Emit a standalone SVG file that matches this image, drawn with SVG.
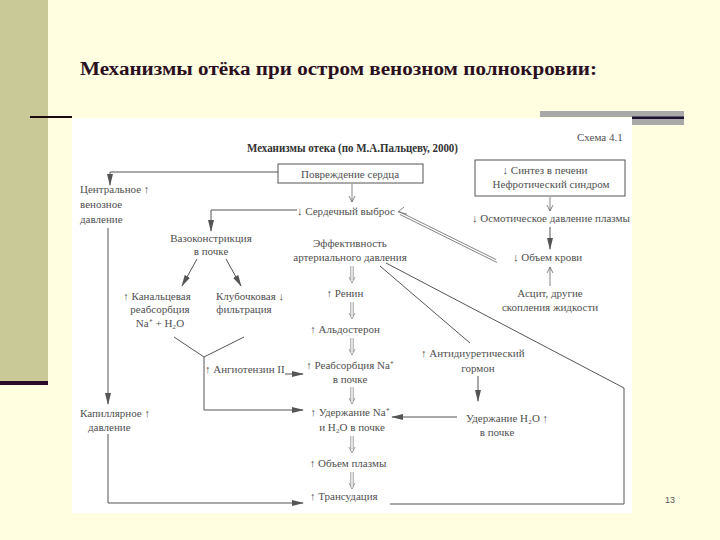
<svg xmlns="http://www.w3.org/2000/svg" width="720" height="540" viewBox="0 0 720 540">
<defs>
<style>
.t{font-family:"Liberation Serif","Times New Roman",serif;font-size:11px;fill:#505050}
.c{text-anchor:middle}
.ln{fill:none;stroke:#555;stroke-width:1}
.th{fill:none;stroke:#666;stroke-width:0.8}
</style>
<marker id="ah" markerWidth="12" markerHeight="8" refX="11" refY="4" orient="auto" markerUnits="userSpaceOnUse"><path d="M0,1 L12,4 L0,7 z" fill="#555"/></marker>
<marker id="oh" markerWidth="8" markerHeight="8" refX="6" refY="4" orient="auto" markerUnits="userSpaceOnUse"><path d="M0,1 L6,4 L0,7" fill="none" stroke="#666" stroke-width="0.8"/></marker>
<g id="dbl"><path d="M-1.2,0 V14 M1.2,0 V14" fill="none" stroke="#777" stroke-width="0.7"/><path d="M-3,11 L0,17 L3,11" fill="none" stroke="#777" stroke-width="0.7"/></g>
</defs>
<rect x="0" y="0" width="720" height="540" fill="#FFFEE0"/>
<rect x="0" y="0" width="48" height="381" fill="#C9C998"/>
<rect x="0" y="381" width="48" height="4" fill="#2A0A28"/>
<rect x="30" y="116" width="42" height="2" fill="#1A0A10"/>
<rect x="540" y="111" width="144" height="6" fill="#A9A9A9"/>
<rect x="632" y="117" width="52" height="8" fill="#A9A9A9"/>
<rect x="632" y="116.5" width="52" height="2.5" fill="#1A1030"/>
<text x="80" y="75" font-family="'Liberation Serif','Times New Roman',serif" font-size="18" font-weight="bold" fill="#2B0F1F" textLength="517" lengthAdjust="spacingAndGlyphs">Механизмы отёка при остром венозном полнокровии:</text>
<rect x="72" y="118" width="560" height="395" fill="#FFFFFF"/>
<text x="247" y="152" font-family="'Liberation Serif','Times New Roman',serif" font-size="12" font-weight="bold" fill="#333" textLength="211" lengthAdjust="spacingAndGlyphs">Механизмы отека (по М.А.Пальцеву, 2000)</text>
<text class="t" x="577" y="141" fill="#666">Схема 4.1</text>

<g id="connectors">
<path class="ln" d="M278,172 H110 V185" marker-end="url(#ah)"/>
<path class="ln" d="M108,228 V404" marker-end="url(#ah)"/>
<path class="ln" d="M108,434 V503 H303" marker-end="url(#ah)"/>
<path class="ln" d="M297,210 H211 V231" marker-end="url(#ah)"/>
<path class="ln" d="M197,259 L182,286" marker-end="url(#ah)"/>
<path class="ln" d="M226,259 L241,286" marker-end="url(#ah)"/>
<path class="ln" d="M174,337 L204,357 L244,337"/>
<path class="ln" d="M204,357 V410 H303" marker-end="url(#ah)"/>
<path class="ln" d="M285,374 H303" marker-end="url(#ah)"/>
<path class="th" d="M352,184 V202" marker-end="url(#oh)"/>
<path class="ln" d="M380,266 L470,343"/>
<path class="ln" d="M386,263 L624,388 V504 H390"/>
<path class="th" d="M497,262.5 L400,214.5 M496,259.5 L399,211.5" />
<path class="th" d="M407,214 L398,212 L404,207"/>
<path class="th" d="M550,197 V211" marker-end="url(#oh)"/>
<path class="ln" d="M550,227 V249" marker-end="url(#ah)"/>
<path class="th" d="M550,286 V267" marker-end="url(#oh)"/>
<path class="ln" d="M478,376 V401" marker-end="url(#ah)"/>
<path class="ln" d="M457,417 H392" marker-end="url(#ah)"/>
<use href="#dbl" x="352" y="266"/>
<use href="#dbl" x="352" y="302"/>
<use href="#dbl" x="352" y="338"/>
<use href="#dbl" x="352" y="387"/>
<use href="#dbl" x="352" y="436"/>
<use href="#dbl" x="352" y="472"/>
</g>

<g id="n-heart"><rect x="278" y="164" width="145" height="19" fill="#fff" stroke="#555" stroke-width="1"/><text class="t c" x="350" y="178">Повреждение сердца</text></g>
<g id="n-cvp"><text class="t" x="80" y="193">Центральное ↑</text><text class="t" x="80" y="208">венозное</text><text class="t" x="80" y="223">давление</text></g>
<g id="n-cap"><text class="t" x="80" y="417">Капиллярное ↑</text><text class="t" x="88" y="431">давление</text></g>
<g id="n-co"><text class="t" x="297" y="215">↓ Сердечный выброс</text></g>
<g id="n-eff"><text class="t c" x="350" y="247">Эффективность</text><text class="t c" x="350" y="261">артериального давления</text></g>
<g id="n-vaso"><text class="t c" x="211" y="242">Вазоконстрикция</text><text class="t c" x="211" y="255">в почке</text></g>
<g id="n-tub"><text class="t c" x="157" y="300">↑ Канальцевая</text><text class="t c" x="160" y="313">реабсорбция</text><text class="t c" x="160" y="327">Na⁺ + H₂O</text></g>
<g id="n-glom"><text class="t c" x="250" y="300">Клубочковая ↓</text><text class="t c" x="244" y="313">фильтрация</text></g>
<g id="n-ang"><text class="t" x="205" y="373">↑ Ангиотензин II</text></g>
<g id="n-renin"><text class="t c" x="345" y="297">↑ Ренин</text></g>
<g id="n-ald"><text class="t c" x="345" y="333">↑ Альдостерон</text></g>
<g id="n-reab"><text class="t c" x="350" y="369">↑ Реабсорбция Na⁺</text><text class="t c" x="350" y="383">в почке</text></g>
<g id="n-ret"><text class="t c" x="350" y="416">↑ Удержание Na⁺</text><text class="t c" x="352" y="431">и H₂O в почке</text></g>
<g id="n-plasma"><text class="t c" x="348" y="467">↑ Объем плазмы</text></g>
<g id="n-trans"><text class="t" x="310" y="500">↑ Трансудация</text></g>
<g id="n-liver"><rect x="475" y="160" width="150" height="36" fill="#fff" stroke="#555" stroke-width="1"/><text class="t c" x="545" y="174">↓ Синтез в печени</text><text class="t c" x="551" y="188">Нефротический синдром</text></g>
<g id="n-onc"><text class="t" x="472" y="222">↓ Осмотическое давление плазмы</text></g>
<g id="n-bv"><text class="t" x="513" y="261">↓ Объем крови</text></g>
<g id="n-asc"><text class="t c" x="550" y="297">Асцит, другие</text><text class="t c" x="550" y="311">скопления жидкости</text></g>
<g id="n-adh"><text class="t" x="421" y="357">↑ Антидиуретический</text><text class="t c" x="478" y="372">гормон</text></g>
<g id="n-h2o"><text class="t" x="466" y="422">Удержание H₂O ↑</text><text class="t c" x="497" y="436">в почке</text></g>
<text x="665" y="503" font-family="'Liberation Sans',Arial,sans-serif" font-size="9" fill="#555">13</text>
</svg>
